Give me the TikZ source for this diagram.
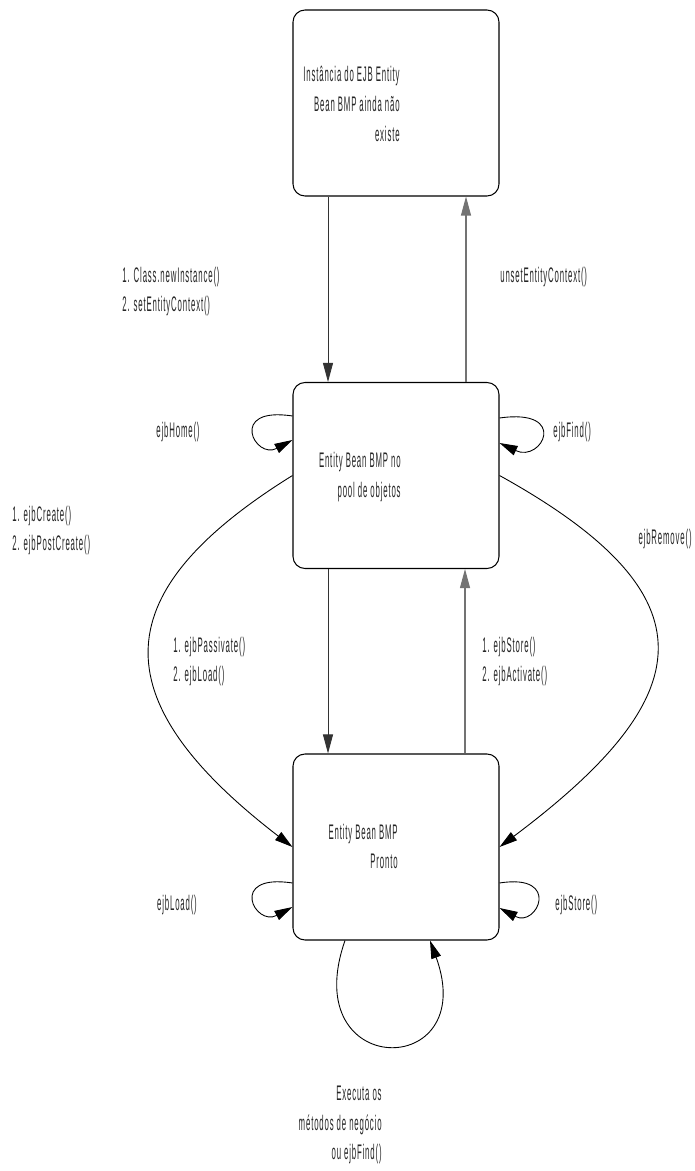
\documentclass[tikz,border=0pt]{standalone}
\usepackage{fontspec}
\usepackage{tikz}
\usetikzlibrary{arrows.meta}
\newfontfamily\umlfont[FakeStretch=0.37,LetterSpace=4]{Liberation Sans}
\tikzset{
  estado/.style={draw=black, line width=0.6pt, rounded corners=0.24cm, minimum width=4.12cm, minimum height=3.72cm},
  texto/.style={font={\umlfont\fontsize{12pt}{17pt}\selectfont}, text=black!85, inner sep=0pt, align=right},
  rotulo/.style={font={\umlfont\fontsize{12pt}{16.5pt}\selectfont}, text=black!85, inner sep=0pt, align=left},
  setaesc/.style={-{Triangle[length=0.38cm, width=0.2cm]}, draw=black!80, line width=0.5pt},
  setaclara/.style={-{Triangle[length=0.38cm, width=0.2cm]}, draw=black!55, line width=0.6pt},
  laco/.style={-{Triangle[length=0.36cm, width=0.2cm]}, draw=black, line width=0.5pt},
}
\begin{document}
\begin{tikzpicture}
\useasboundingbox (0,0) rectangle (13.88,-23.42);
\node[estado] (b1) at (7.92,-2.06) {};
\node[estado] (b2) at (7.92,-9.51) {};
\node[estado] (b3) at (7.92,-16.94) {};
\node[texto, anchor=east] (b1txt) at (8.0,-2.08) {Instância do EJB Entity\\Bean BMP ainda não\\existe};
\node[texto, anchor=east] (b2txt) at (8.02,-9.54) {Entity Bean BMP no\\pool de objetos};
\node[texto, anchor=east] (b3txt) at (7.96,-16.93) {Entity Bean BMP\\Pronto};

\draw[setaesc] ([xshift=-1.36cm]b1.south) -- ([xshift=-1.36cm]b2.north);
\draw[setaclara] ([xshift=1.4cm]b2.north) -- ([xshift=1.4cm]b1.south);
\draw[setaesc] ([xshift=-1.36cm]b2.south) -- ([xshift=-1.36cm]b3.north);
\draw[setaclara] ([xshift=1.38cm]b3.north) -- ([xshift=1.38cm]b2.south);
\node[rotulo, anchor=west] (newinst) at (2.44,-5.84) {1. Class.newInstance()\\2. setEntityContext()};
\node[rotulo, anchor=west] (unset) at (10.0,-5.54) {unsetEntityContext()};
\node[rotulo, anchor=west] (passiv) at (3.46,-13.24) {1. ejbPassivate()\\2. ejbLoad()};
\node[rotulo, anchor=west] (activ) at (9.64,-13.24) {1. ejbStore()\\2. ejbActivate()};

\draw[laco] ([yshift=1.19cm]b2.west) .. controls +(-1.3,0.2) and +(-0.75,-0.4) .. ([yshift=0.71cm]b2.west);
\draw[laco] ([yshift=1.15cm]b2.east) .. controls +(1.4,0.2) and +(0.85,-0.4) .. ([yshift=0.65cm]b2.east);
\node[rotulo] (home) at (3.56,-8.64) {ejbHome()};
\node[rotulo, anchor=west] (find) at (11.06,-8.64) {ejbFind()};

\draw[laco] (b2.west) .. controls +(-3.7,-2.3) and +(-3.9,3.0) .. (b3.west);
\draw[laco] (b2.east) .. controls +(4.37,-2.42) and +(4.0,3.0) .. (b3.east);
\node[rotulo, anchor=west] (create) at (0.24,-10.62) {1. ejbCreate()\\2. ejbPostCreate()};
\node[rotulo, anchor=east] (remove) at (13.84,-10.78) {ejbRemove()};

\draw[laco] ([yshift=-0.72cm]b3.west) .. controls +(-1.3,0.2) and +(-0.75,-0.4) .. ([yshift=-1.2cm]b3.west);
\draw[laco] ([yshift=-0.72cm]b3.east) .. controls +(1.25,0.2) and +(0.75,-0.4) .. ([yshift=-1.22cm]b3.east);
\node[rotulo] (load) at (3.54,-18.1) {ejbLoad()};
\node[rotulo, anchor=west] (store) at (11.1,-18.1) {ejbStore()};

\draw[laco] ([xshift=-1.02cm]b3.south) .. controls +(-0.98,-2.8) and +(1.02,-2.8) .. ([xshift=0.68cm]b3.south);
\node[texto, anchor=east] (exec) at (7.64,-22.5) {Executa os\\métodos de negócio\\ou ejbFind()};
\end{tikzpicture}
\end{document}
